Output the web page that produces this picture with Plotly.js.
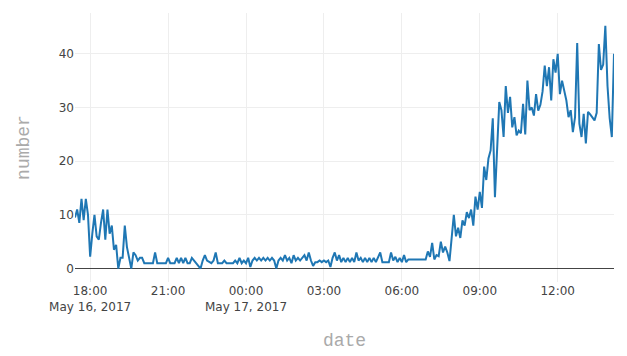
<!DOCTYPE html>
<html>
<head>
<meta charset="utf-8">
<script src="https://cdn.plot.ly/plotly-3.0.1.min.js"></script>
<style>html,body{margin:0;padding:0;background:#fff;}#chart{width:627px;height:356px;}</style>
</head>
<body>
<div id="chart"></div>
<script>
// Readings every 5 minutes, starting 2017-05-16 17:25
const startTime = '2017-05-16T17:25:00Z';
const stepMinutes = 5;

const v1725 = [9.5, 11, 8.5, 13, 9, 13, 10];
const v18 = [2.2, 6.5, 10, 6, 5.4, 8.5, 11, 5.4, 11, 6.5, 8, 3.5];
const v19 = [4.4, 0, 2, 2, 8, 4, 2, 0, 3, 2.5, 1.5, 2];
const v20 = [2, 1, 1, 1, 1, 1, 3, 1, 1, 1, 1, 1];
const v21 = [2, 1, 1, 1, 2, 1, 2, 1, 2, 1, 1, 2];
const v22 = [1.5, 1, 0.5, 0, 1.5, 2.5, 1.5, 1.2, 1, 1.5, 3, 1];
const v23 = [1, 1, 1.5, 1, 1, 1, 1, 1.5, 1, 2, 1, 1.5];
const v00 = [1, 2, 0.3, 1.5, 2, 1.5, 2, 1.5, 2, 1.5, 2, 1.5];
const v01 = [2, 1.5, 0, 1.5, 2, 1.5, 2.5, 1.5, 2, 1, 2.5, 1.5];
const v02 = [2, 1.5, 2, 2.5, 1.5, 3, 1.5, 0.5, 1.2, 1.2, 1.5, 1.2];
const v03 = [1.5, 1.2, 1.5, 0.3, 2, 3, 1.5, 2.5, 1.2, 2, 1.2, 2];
const v04 = [1.2, 2, 1.2, 3, 1.5, 2, 1.2, 2, 1.2, 2, 1.2, 2];
const v05 = [1.2, 2, 3, 1.2, 1.2, 1.2, 1.2, 3, 1.5, 2.2, 1.2, 2];
const v06 = [1.2, 2.5, 1.2, 1.7, 1.7, 1.7, 1.7, 1.7, 1.7, 1.7, 1.7, 1.7];
const v07 = [3.2, 2.2, 4.8, 1.7, 2.5, 2.3, 5, 3, 4.1, 3, 1.4, 6];
const v08 = [10, 6, 7.6, 5.7, 9, 8, 10.5, 9.4, 11, 8, 13.4, 11];
const v09 = [14.3, 11.3, 19, 16.5, 20.5, 22, 28, 13.3, 21, 31, 29.5, 24.5];
const v10 = [34, 29, 32, 26.3, 28.2, 24.8, 25.7, 25.2, 30.7, 25, 35, 29.5];
const v11 = [30, 28.5, 32.5, 29.4, 30.5, 33, 37.8, 34, 37.5, 31.3, 39, 36.5];
const v12 = [40, 32.5, 35, 33, 31.3, 28.2, 29.5, 25.4, 28.2, 42, 27, 24.5];
const v13 = [28.8, 23.3, 29.2, 28.7, 28.2, 27.6, 29, 41.8, 37, 38, 45.2, 34];
const v14 = [28, 24.5, 40];

const values = [].concat(v1725, v18, v19, v20, v21, v22, v23, v00, v01, v02, v03,
  v04, v05, v06, v07, v08, v09, v10, v11, v12, v13, v14);

const t0 = new Date(startTime).getTime();
const times = values.map((_, i) =>
  new Date(t0 + i * stepMinutes * 60000).toISOString().slice(0, 16).replace('T', ' '));

const xTitle = 'date';
const yTitle = 'number';

const trace = {
  x: times,
  y: values,
  type: 'scatter',
  mode: 'lines',
  line: {color: '#1f77b4', width: 2}
};

const layout = {
  width: 627,
  height: 356,
  margin: {l: 75, r: 13, t: 13, b: 74},
  paper_bgcolor: '#fff',
  plot_bgcolor: '#fff',
  showlegend: false,
  font: {family: 'DejaVu Sans, Verdana, sans-serif', size: 12, color: '#444'},
  xaxis: {
    type: 'date',
    tick0: '2017-05-16 00:00',
    dtick: 3 * 3600 * 1000,
    showgrid: true,
    gridcolor: '#eee',
    zeroline: false,
    showline: false,
    tickfont: {family: 'DejaVu Sans, Verdana, sans-serif', size: 12, color: '#444'},
    title: {text: xTitle, font: {family: 'Liberation Mono, Courier New, monospace', size: 18, color: '#aaa'}}
  },
  yaxis: {
    range: [-2.5, 47.6],
    dtick: 10,
    showgrid: true,
    gridcolor: '#eee',
    zeroline: true,
    zerolinecolor: '#444',
    zerolinewidth: 1,
    showline: false,
    tickfont: {family: 'DejaVu Sans, Verdana, sans-serif', size: 12, color: '#444'},
    title: {text: yTitle, font: {family: 'Liberation Mono, Courier New, monospace', size: 18, color: '#aaa'}}
  }
};

Plotly.newPlot('chart', [trace], layout, {displayModeBar: false, staticPlot: true});
</script>
</body>
</html>
